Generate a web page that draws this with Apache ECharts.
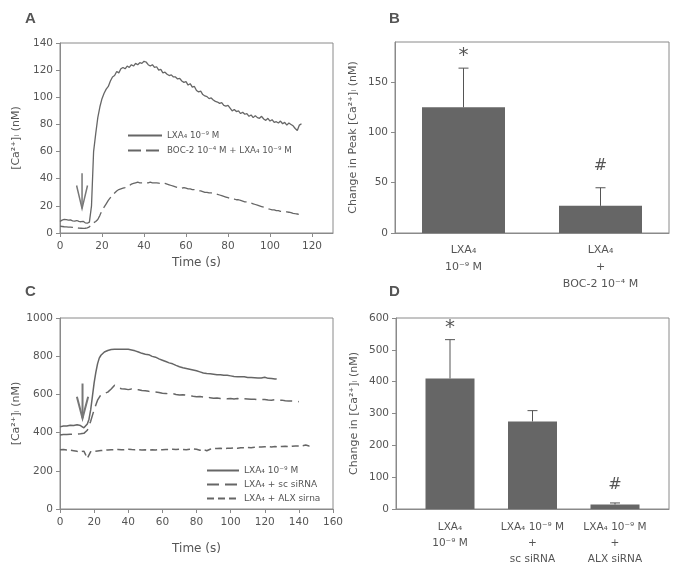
<!DOCTYPE html>
<html>
<head>
<meta charset="utf-8">
<script src="https://cdn.jsdelivr.net/npm/echarts@6/dist/echarts.min.js"></script>
<style>
  html, body { margin: 0; padding: 0; background: #fff; }
  #main { width: 679px; height: 570px; }
</style>
</head>
<body>
<div id="main"></div>
<script>
// panel A: calcium traces, sampled every 1 s
const stepA = 1;
const aLxa = [8.5, 9.5, 10, 9.8, 9.5, 9.6, 9, 8.8, 9.2, 8.5, 8.3, 8.6, 7.5, 7.2,
  8, 20, 60, 73, 85, 93, 99, 103, 106, 108, 112, 115, 116, 119, 118, 121,
  122, 121, 123, 122, 124, 123, 125, 124, 125.5, 125, 126.5, 126, 124, 123, 124,
  122, 122.5, 120, 120.5, 118, 118.5, 117, 116, 116.5, 115, 115, 113.5, 114, 112, 111,
  111.5, 109, 110, 107.5, 108, 105, 104, 104.5, 102, 101, 100.5, 99, 99.5, 98, 97,
  96.5, 95.5, 96, 94, 93.5, 94, 92, 90, 91, 89.5, 90, 88, 89, 87.5, 88,
  86, 87, 85, 86.5, 85, 84.5, 86, 84, 83, 84.5, 82.5, 83.5, 81.5, 82, 81,
  82.5, 80.5, 81.5, 79.5, 81, 80, 79, 77, 75.5, 79.5, 80.5];
const aBoc = [5, 4.8, 4.6, 4.5, 4.4, 4.3, 4.2, 4.0, 3.8, 3.6, 3.5, 3.4, 3.5, 3.8, 4.5,
  6.5, 7.5, 8.5, 10, 13, 16.5, 19, 21.5, 24, 26, 28, 29.5, 31, 32, 32.5,
  33, 33.5, 34.5, 35, 36, 36.5, 37, 37.5, 37, 37, 37, 36.8, 37, 37.5, 37,
  37, 37, 36.8, 36.5, 36.8, 36.5, 36, 35.5, 35, 34.5, 34, 33.5, 33.5, 33, 33.5,
  33, 32.5, 32.5, 32, 32, 31.5, 31, 31, 30.5, 30, 30, 29.5, 29.5, 29, 29,
  28.5, 28, 27.5, 27, 26.5, 26, 25.5, 25.5, 25, 24.5, 24.5, 24, 23.5, 23, 23,
  22.5, 22, 21.5, 21, 20.5, 20, 19.5, 19, 18.5, 18, 17.5, 17, 17, 16.5, 16.5,
  16, 15.8, 15.5, 15.5, 15.3, 15, 14.5, 14.2, 14, 13.7, 13.3];
const arrowA = [[[10.5, 44], [10.5, 18]], [[7.9, 35], [10.5, 18], [13.1, 35]]];

// panel B
const bCats = ['LXA₄\n10⁻⁹ M', 'LXA₄\n+\nBOC-2 10⁻⁴ M'];
const bMeans = [125, 27];
const bErrTop = [164, 45];
const bMarks = ['*', '#'];
const bMarkAt = [176, 67];

// panel C: traces (LXA4 every 1 s, siRNA traces every 2 s)
const stepC1 = 1;
const stepC2 = 2;
const cLxa = [430, 432, 435, 436, 434, 437, 438, 440, 437, 439, 441, 438, 437, 436,
  425, 430, 445, 470, 520, 590, 660, 715, 760, 790, 805, 815, 822, 828, 830, 833,
  835, 834, 836, 838, 836, 838, 837, 839, 837, 838, 836, 834, 832, 830, 828,
  826, 822, 818, 815, 813, 810, 806, 808, 803, 799, 800, 795, 791, 786, 782,
  779, 776, 772, 768, 765, 762, 760, 756, 752, 749, 745, 743, 740, 738, 736,
  735, 732, 730, 728, 727, 724, 721, 718, 716, 712, 710, 709, 708, 708, 707,
  706, 705, 703, 702, 703, 701, 700, 698, 700, 697, 697, 696, 694, 696, 693,
  694, 692, 690, 692, 689, 689, 687, 688, 686, 687, 685, 686, 684, 686, 688,
  690, 686, 684, 688, 683, 684, 681, 680];
const cSc = [388, 390, 390, 391, 392, 393, 394, 396, 412, 460, 520, 570, 598, 605, 612,
  628, 648, 636, 630, 628, 625, 628, 623, 624, 620, 619, 616, 614, 612, 610,
  606, 605, 603, 604, 600, 597, 598, 596, 594, 590, 588, 589, 586, 588, 582,
  580, 581, 578, 580, 577, 579, 576, 578, 574, 577, 576, 574, 575, 572, 574,
  573, 571, 570, 572, 569, 570, 567, 566, 565, 564, 562];
const cAlx = [310, 312, 309, 308, 305, 302, 300, 303, 266, 300, 302, 304, 306, 308, 309,
  310, 310, 312, 310, 311, 313, 311, 310, 311, 309, 310, 308, 310, 309, 311,
  310, 312, 311, 313, 312, 313, 312, 310, 313, 315, 313, 308, 312, 305, 313,
  316, 317, 318, 316, 318, 318, 320, 318, 321, 320, 322, 321, 323, 325, 324,
  326, 327, 325, 327, 326, 327, 328, 327, 329, 330, 330, 331, 335, 330, 332];
const arrowC = [[[13.2, 657], [13.2, 475]], [[9.9, 588], [13.2, 475], [16.5, 588]]];

// panel D
const dCats = ['LXA₄\n10⁻⁹ M', 'LXA₄ 10⁻⁹ M\n+\nsc siRNA', 'LXA₄ 10⁻⁹ M\n+\nALX siRNA'];
const dMeans = [410, 275, 14];
const dErrTop = [532, 309, 19];
const dMarks = ['*', '', '#'];
const dMarkAt = [568, 0, 76];

const ink = '#666';
const txt = '#555';
const frame = '#8a8a8a';
const font = 'DejaVu Sans';

function pairs(values, step) {
  return values.map((v, i) => [i * step, v]);
}

function errRender(params, api) {
  const base = api.coord([api.value(0), api.value(1)]);
  const top = api.coord([api.value(0), api.value(2)]);
  return {
    type: 'group',
    children: [
      { type: 'line', shape: { x1: base[0], y1: base[1], x2: top[0], y2: top[1] }, style: { stroke: '#555', lineWidth: 1 } },
      { type: 'line', shape: { x1: top[0] - 5, y1: top[1], x2: top[0] + 5, y2: top[1] }, style: { stroke: '#555', lineWidth: 1 } }
    ]
  };
}

function markRender(marks) {
  return function (params, api) {
    const p = api.coord([api.value(0), api.value(1)]);
    const m = marks[params.dataIndex];
    return {
      type: 'text',
      x: p[0], y: p[1],
      style: { text: m, align: 'center', verticalAlign: 'middle', fontSize: m === '*' ? 20 : 16, fill: txt, fontFamily: font }
    };
  };
}

const axisLineStyle = { lineStyle: { color: frame, width: 1 } };
const tickStyle = { length: 4, lineStyle: { color: frame } };
const labelStyle = { color: txt, fontSize: 10.5, fontFamily: font };
const nameStyle = { color: txt, fontSize: 11, fontFamily: font };

function valueAxis(grid, min, max, interval, extra) {
  return Object.assign({
    type: 'value', gridIndex: grid, min: min, max: max, interval: interval,
    splitLine: { show: false },
    axisLine: Object.assign({ show: true }, axisLineStyle),
    axisTick: Object.assign({ show: true }, tickStyle),
    axisLabel: Object.assign({ margin: 7, formatter: v => String(v) }, labelStyle)
  }, extra || {});
}

const chart = echarts.init(document.getElementById('main'));

chart.setOption({
  animation: false,
  backgroundColor: '#fff',
  title: [
    { text: 'A', left: 20, top: 6 },
    { text: 'B', left: 384, top: 6 },
    { text: 'C', left: 20, top: 279 },
    { text: 'D', left: 384, top: 279 }
  ].map(t => Object.assign(t, { textStyle: { color: txt, fontSize: 15, fontWeight: 'bold', fontFamily: 'Liberation Sans' } })),
  grid: [
    { left: 60, top: 43, width: 273, height: 190, show: true, borderColor: frame, borderWidth: 1 },
    { left: 395, top: 42, width: 274, height: 191, show: true, borderColor: frame, borderWidth: 1 },
    { left: 60, top: 318, width: 273, height: 191, show: true, borderColor: frame, borderWidth: 1 },
    { left: 396, top: 318, width: 273, height: 191, show: true, borderColor: frame, borderWidth: 1 },
    { left: 408.75, top: 318, width: 247.5, height: 191 }
  ],
  xAxis: [
    valueAxis(0, 0, 130, 20, {
      name: 'Time (s)', nameLocation: 'middle', nameGap: 24,
      nameTextStyle: { color: txt, fontSize: 12, fontFamily: font },
      axisLabel: Object.assign({ margin: 8, showMaxLabel: false }, labelStyle)
    }),
    {
      type: 'category', gridIndex: 1, data: bCats,
      axisLine: axisLineStyle, axisTick: { show: false },
      axisLabel: Object.assign({ margin: 9, lineHeight: 17 }, labelStyle, { fontSize: 11 })
    },
    valueAxis(2, 0, 160, 20, {
      name: 'Time (s)', nameLocation: 'middle', nameGap: 34,
      nameTextStyle: { color: txt, fontSize: 12, fontFamily: font },
      axisLabel: Object.assign({ margin: 8 }, labelStyle)
    }),
    {
      type: 'value', gridIndex: 3, min: 0, max: 1,
      axisLine: axisLineStyle, axisTick: { show: false }, axisLabel: { show: false }, splitLine: { show: false }
    },
    {
      type: 'category', gridIndex: 4, data: dCats,
      axisLine: { show: false }, axisTick: { show: false },
      axisLabel: Object.assign({ margin: 10, lineHeight: 16 }, labelStyle, { fontSize: 10.5 })
    }
  ],
  yAxis: [
    valueAxis(0, 0, 140, 20, {
      name: '[Ca²⁺]ᵢ (nM)', nameLocation: 'middle', nameGap: 38, nameTextStyle: nameStyle
    }),
    valueAxis(1, 0, 190, 50, {
      name: 'Change in Peak [Ca²⁺]ᵢ (nM)', nameLocation: 'middle', nameGap: 36, nameTextStyle: nameStyle,
      axisLabel: Object.assign({ margin: 7, showMaxLabel: false }, labelStyle)
    }),
    valueAxis(2, 0, 1000, 200, {
      name: '[Ca²⁺]ᵢ (nM)', nameLocation: 'middle', nameGap: 38, nameTextStyle: nameStyle
    }),
    valueAxis(3, 0, 600, 100, {
      name: 'Change in [Ca²⁺]ᵢ (nM)', nameLocation: 'middle', nameGap: 36, nameTextStyle: nameStyle
    }),
    { type: 'value', gridIndex: 4, min: 0, max: 600, show: false }
  ],
  legend: [
    {
      data: ['LXA₄ 10⁻⁹ M', 'BOC-2 10⁻⁴ M + LXA₄ 10⁻⁹ M'],
      orient: 'vertical', left: 122, top: 126, itemWidth: 34, itemHeight: 8, itemGap: 6,
      itemStyle: { opacity: 0 },
      textStyle: { color: txt, fontSize: 8.7, fontFamily: font }
    },
    {
      data: ['LXA₄ 10⁻⁹ M ', 'LXA₄ + sc siRNA', 'LXA₄ + ALX sirna'],
      orient: 'vertical', left: 201, top: 461, itemWidth: 32, itemHeight: 8, itemGap: 5,
      itemStyle: { opacity: 0 },
      textStyle: { color: txt, fontSize: 9, fontFamily: font }
    }
  ],
  series: [
    {
      name: 'LXA₄ 10⁻⁹ M', type: 'line', xAxisIndex: 0, yAxisIndex: 0, data: pairs(aLxa, stepA),
      showSymbol: false, symbol: 'none', lineStyle: { color: ink, width: 1.3 }, itemStyle: { color: ink }
    },
    {
      name: 'BOC-2 10⁻⁴ M + LXA₄ 10⁻⁹ M', type: 'line', xAxisIndex: 0, yAxisIndex: 0, data: pairs(aBoc, stepA),
      showSymbol: false, symbol: 'none', lineStyle: { color: ink, width: 1.3, type: [13, 5] }, itemStyle: { color: ink }
    },
    {
      type: 'lines', coordinateSystem: 'cartesian2d', xAxisIndex: 0, yAxisIndex: 0, polyline: true,
      data: arrowA.map(c => ({ coords: c })), lineStyle: { color: '#777', width: 1.5, opacity: 1 }
    },
    {
      type: 'bar', xAxisIndex: 1, yAxisIndex: 1, data: bMeans, barWidth: 83,
      itemStyle: { color: ink }
    },
    {
      type: 'custom', xAxisIndex: 1, yAxisIndex: 1, z: 5, renderItem: errRender,
      data: bMeans.map((m, i) => [i, m, bErrTop[i]])
    },
    {
      type: 'custom', xAxisIndex: 1, yAxisIndex: 1, z: 5, renderItem: markRender(bMarks),
      data: bMarkAt.map((v, i) => [i, v])
    },
    {
      name: 'LXA₄ 10⁻⁹ M ', type: 'line', xAxisIndex: 2, yAxisIndex: 2, data: pairs(cLxa, stepC1),
      showSymbol: false, symbol: 'none', lineStyle: { color: ink, width: 1.5 }, itemStyle: { color: ink }
    },
    {
      name: 'LXA₄ + sc siRNA', type: 'line', xAxisIndex: 2, yAxisIndex: 2, data: pairs(cSc, stepC2),
      showSymbol: false, symbol: 'none', lineStyle: { color: ink, width: 1.5, type: [12, 6] }, itemStyle: { color: ink }
    },
    {
      name: 'LXA₄ + ALX sirna', type: 'line', xAxisIndex: 2, yAxisIndex: 2, data: pairs(cAlx, stepC2),
      showSymbol: false, symbol: 'none', lineStyle: { color: ink, width: 1.5, type: [7, 4] }, itemStyle: { color: ink }
    },
    {
      type: 'lines', coordinateSystem: 'cartesian2d', xAxisIndex: 2, yAxisIndex: 2, polyline: true,
      data: arrowC.map(c => ({ coords: c })), lineStyle: { color: '#777', width: 2, opacity: 1 }
    },
    {
      type: 'bar', xAxisIndex: 4, yAxisIndex: 4, data: dMeans, barWidth: 49,
      itemStyle: { color: ink }
    },
    {
      type: 'custom', xAxisIndex: 4, yAxisIndex: 4, z: 5, renderItem: errRender,
      data: dMeans.map((m, i) => [i, m, dErrTop[i]])
    },
    {
      type: 'custom', xAxisIndex: 4, yAxisIndex: 4, z: 5, renderItem: markRender(dMarks),
      data: dMarkAt.map((v, i) => [i, v])
    }
  ]
});
</script>
</body>
</html>
